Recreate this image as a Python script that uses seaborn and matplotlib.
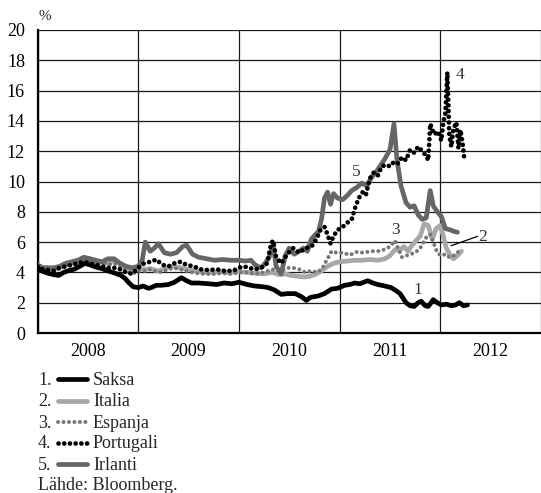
import matplotlib
matplotlib.use("Agg")
import matplotlib.pyplot as plt
from matplotlib.lines import Line2D
import seaborn as sns
import pandas as pd

# ---------------- data ----------------
saksa_t = [2008.00, 2008.04, 2008.10, 2008.16, 2008.21, 2008.26, 2008.30, 2008.36, 2008.42, 2008.47,
           2008.52, 2008.58, 2008.64, 2008.70, 2008.77, 2008.83, 2008.87, 2008.91, 2008.95, 2009.00,
           2009.05, 2009.10, 2009.13, 2009.18, 2009.23, 2009.30, 2009.36, 2009.43, 2009.48, 2009.53,
           2009.60, 2009.70, 2009.78, 2009.85, 2009.93, 2010.00, 2010.08, 2010.16, 2010.24, 2010.29,
           2010.35, 2010.42, 2010.48, 2010.56, 2010.62, 2010.67, 2010.71, 2010.75, 2010.79, 2010.85,
           2010.92, 2010.98, 2011.05, 2011.10, 2011.15, 2011.20, 2011.28, 2011.33, 2011.38, 2011.45,
           2011.51, 2011.56, 2011.60, 2011.63, 2011.66, 2011.70, 2011.74, 2011.78, 2011.81, 2011.85,
           2011.88, 2011.93, 2011.97, 2012.01, 2012.06, 2012.11, 2012.15, 2012.19, 2012.23, 2012.27]
saksa_v = [4.3, 4.1, 3.95, 3.85, 3.8, 4.0, 4.1, 4.2, 4.4, 4.6,
           4.5, 4.35, 4.25, 4.1, 3.95, 3.8, 3.6, 3.3, 3.05, 3.0,
           3.1, 2.95, 3.0, 3.15, 3.15, 3.2, 3.35, 3.65, 3.45, 3.3,
           3.3, 3.25, 3.2, 3.3, 3.25, 3.35, 3.2, 3.1, 3.05, 3.0,
           2.85, 2.55, 2.6, 2.6, 2.4, 2.15, 2.35, 2.4, 2.45, 2.6,
           2.9, 2.95, 3.15, 3.2, 3.3, 3.25, 3.45, 3.3, 3.2, 3.1,
           3.0, 2.8, 2.6, 2.3, 2.0, 1.8, 1.75, 2.0, 2.1, 1.8,
           1.75, 2.2, 2.0, 1.85, 1.9, 1.8, 1.85, 2.0, 1.8, 1.85]

italia_t = [2008.00, 2008.05, 2008.10, 2008.16, 2008.22, 2008.28, 2008.34, 2008.40, 2008.46, 2008.52,
            2008.58, 2008.64, 2008.70, 2008.76, 2008.82, 2008.88, 2008.94, 2009.00, 2009.06, 2009.12,
            2009.20, 2009.28, 2009.35, 2009.42, 2009.50, 2009.58, 2009.66, 2009.75, 2009.83, 2009.92,
            2010.00, 2010.08, 2010.16, 2010.25, 2010.33, 2010.40, 2010.46, 2010.52, 2010.58, 2010.65,
            2010.71, 2010.77, 2010.82, 2010.88, 2010.94, 2011.00, 2011.08, 2011.15, 2011.22, 2011.30,
            2011.38, 2011.45, 2011.50, 2011.55, 2011.60, 2011.64, 2011.68, 2011.72, 2011.76, 2011.80,
            2011.84, 2011.88, 2011.92, 2011.96, 2012.00, 2012.03, 2012.06, 2012.10, 2012.13, 2012.17,
            2012.21]
italia_v = [4.5, 4.3, 4.3, 4.2, 4.3, 4.5, 4.6, 4.7, 4.9, 4.9,
            4.7, 4.7, 4.6, 4.8, 4.6, 4.3, 4.2, 4.3, 4.2, 4.25,
            4.1, 4.3, 4.4, 4.3, 4.2, 4.1, 4.0, 4.0, 4.05, 4.0,
            4.05, 4.0, 3.95, 3.9, 4.0, 3.85, 3.9, 3.8, 3.75, 3.7,
            3.75, 3.9, 4.1, 4.4, 4.6, 4.7, 4.75, 4.8, 4.8, 4.85,
            4.8, 4.9, 5.1, 5.5, 5.5, 5.7, 5.4, 5.8, 6.1, 6.4,
            7.2, 7.1, 6.2, 6.9, 7.1, 6.4, 5.6, 5.1, 4.9, 5.1,
            5.4]

espanja_t = [2008.00, 2008.05, 2008.10, 2008.16, 2008.22, 2008.28, 2008.34, 2008.40, 2008.46, 2008.52,
             2008.58, 2008.64, 2008.70, 2008.76, 2008.82, 2008.88, 2008.94, 2009.00, 2009.06, 2009.12,
             2009.20, 2009.28, 2009.35, 2009.42, 2009.50, 2009.58, 2009.66, 2009.75, 2009.83, 2009.92,
             2010.00, 2010.08, 2010.16, 2010.25, 2010.33, 2010.42, 2010.48, 2010.54, 2010.60, 2010.66,
             2010.72, 2010.78, 2010.83, 2010.88, 2010.92, 2010.97, 2011.03, 2011.10, 2011.17, 2011.24,
             2011.31, 2011.38, 2011.44, 2011.50, 2011.55, 2011.58, 2011.62, 2011.66, 2011.70, 2011.75,
             2011.80, 2011.86, 2011.90, 2011.93, 2011.97, 2012.01, 2012.05, 2012.09, 2012.13, 2012.17,
             2012.21]
espanja_v = [4.4, 4.2, 4.3, 4.2, 4.3, 4.45, 4.55, 4.7, 4.85, 4.8,
             4.6, 4.65, 4.5, 4.6, 4.4, 4.1, 3.9, 4.1, 4.1, 4.2,
             4.0, 4.15, 4.3, 4.2, 4.05, 3.95, 3.9, 3.9, 3.95, 3.9,
             4.0, 4.0, 3.9, 4.0, 4.2, 4.1, 4.3, 4.3, 4.2, 4.0,
             4.1, 4.0, 4.3, 4.9, 5.4, 5.3, 5.3, 5.15, 5.35, 5.3,
             5.4, 5.4, 5.5, 5.7, 6.1, 5.6, 5.0, 5.1, 5.2, 5.3,
             5.6, 6.3, 6.5, 6.0, 5.3, 5.1, 5.2, 5.0, 5.1, 5.3,
             5.6]

portugali_t = [2008.00, 2008.05, 2008.10, 2008.16, 2008.22, 2008.28, 2008.34, 2008.40, 2008.46, 2008.52,
               2008.58, 2008.64, 2008.70, 2008.76, 2008.82, 2008.88, 2008.94, 2009.00, 2009.06, 2009.12,
               2009.18, 2009.24, 2009.30, 2009.36, 2009.42, 2009.48, 2009.55, 2009.62, 2009.70, 2009.78,
               2009.86, 2009.94, 2010.00, 2010.05, 2010.10, 2010.16, 2010.22, 2010.28, 2010.32, 2010.34,
               2010.37, 2010.42, 2010.48, 2010.54, 2010.60, 2010.66, 2010.72, 2010.77, 2010.81, 2010.85,
               2010.88, 2010.91, 2010.94, 2010.98, 2011.03, 2011.08, 2011.12, 2011.15, 2011.19, 2011.23,
               2011.26, 2011.30, 2011.34, 2011.38, 2011.42, 2011.46, 2011.50, 2011.54, 2011.58, 2011.62,
               2011.66, 2011.70, 2011.74, 2011.78, 2011.82, 2011.86, 2011.88, 2011.90, 2011.94, 2011.98,
               2012.01, 2012.03, 2012.05, 2012.07, 2012.09, 2012.11, 2012.13, 2012.16, 2012.18, 2012.20,
               2012.22, 2012.24]
portugali_v = [4.4, 4.2, 4.15, 4.1, 4.3, 4.4, 4.5, 4.6, 4.7, 4.6,
               4.5, 4.4, 4.3, 4.3, 4.2, 4.0, 3.9, 4.3, 4.6, 4.7,
               4.85, 4.5, 4.4, 4.6, 4.7, 4.5, 4.4, 4.2, 4.15, 4.2,
               4.1, 4.1, 4.3, 4.4, 4.3, 4.2, 4.3, 4.6, 5.9, 6.1,
               5.0, 4.6, 5.2, 5.6, 5.3, 5.6, 5.7, 6.2, 6.8, 7.0,
               6.5, 5.9, 6.4, 6.8, 7.0, 7.3, 7.5, 8.2, 8.9, 9.3,
               9.1, 10.2, 10.6, 10.4, 11.0, 11.1, 11.0, 11.3, 11.2, 11.6,
               11.4, 12.1, 11.9, 12.3, 12.0, 11.7, 11.4, 13.8, 13.1, 13.3,
               12.7, 13.9, 14.5, 17.2, 13.0, 12.3, 13.5, 13.9, 12.2, 13.4,
               12.6, 11.4]

irlanti_t = [2008.00, 2008.05, 2008.10, 2008.16, 2008.22, 2008.28, 2008.34, 2008.40, 2008.46, 2008.52,
             2008.58, 2008.64, 2008.70, 2008.76, 2008.82, 2008.88, 2008.94, 2009.00, 2009.04, 2009.07,
             2009.12, 2009.16, 2009.20, 2009.26, 2009.32, 2009.38, 2009.44, 2009.48, 2009.54, 2009.60,
             2009.68, 2009.76, 2009.84, 2009.92, 2010.00, 2010.06, 2010.12, 2010.16, 2010.22, 2010.26,
             2010.30, 2010.34, 2010.37, 2010.42, 2010.46, 2010.50, 2010.55, 2010.60, 2010.64, 2010.68,
             2010.72, 2010.76, 2010.79, 2010.82, 2010.85, 2010.88, 2010.91, 2010.94, 2010.98, 2011.03,
             2011.08, 2011.12, 2011.17, 2011.22, 2011.27, 2011.32, 2011.36, 2011.40, 2011.45, 2011.50,
             2011.54, 2011.57, 2011.61, 2011.66, 2011.70, 2011.74, 2011.78, 2011.82, 2011.86, 2011.90,
             2011.93, 2011.97, 2012.01, 2012.05, 2012.10, 2012.14, 2012.17]
irlanti_v = [4.5, 4.3, 4.3, 4.3, 4.4, 4.6, 4.7, 4.8, 5.0, 4.9,
             4.8, 4.7, 4.9, 4.9, 4.6, 4.4, 4.3, 4.4, 4.8, 6.0,
             5.4, 5.6, 5.9, 5.3, 5.2, 5.3, 5.7, 5.8, 5.2, 5.0,
             4.9, 4.8, 4.85, 4.8, 4.8, 4.75, 4.8, 4.5, 4.3, 4.6,
             5.0, 5.8, 4.4, 3.9, 5.1, 5.6, 5.2, 5.4, 5.6, 5.4,
             6.2, 6.5, 6.7, 7.5, 8.9, 9.3, 8.5, 9.2, 8.9, 8.8,
             9.1, 9.4, 9.6, 9.9, 9.7, 10.3, 10.6, 11.0, 11.5, 12.1,
             13.8, 11.4, 9.7, 8.6, 8.3, 8.4, 7.8, 7.5, 7.6, 9.4,
             8.4, 8.0, 7.7, 6.9, 6.8, 6.7, 6.65]

series_names = ["Saksa", "Italia", "Espanja", "Portugali", "Irlanti"]
series_numbers = ["1", "2", "3", "4", "5"]
y_ticks = [0, 2, 4, 6, 8, 10, 12, 14, 16, 18, 20]
year_labels = ["2008", "2009", "2010", "2011", "2012"]
source_text = "Lähde: Bloomberg."

# ---------------- style ----------------
sns.set_style("white")
plt.rcParams["font.family"] = ["Liberation Serif", "DejaVu Serif"]

W, H = 541, 493
fig = plt.figure(figsize=(W / 100, H / 100), dpi=100)
ax = fig.add_axes([37.5 / W, 1 - 333 / H, 1 - 37.5 / W, (333 - 30) / H])

c_saksa = "#000000"
c_italia = "#a8a8a8"
c_espanja = "#777777"
c_portugali = "#000000"
c_irlanti = "#666666"

styles = {
    "Italia": dict(color=c_italia, lw=3.4, linestyle="-", solid_capstyle="round", solid_joinstyle="round", zorder=3),
    "Espanja": dict(color=c_espanja, lw=2.9, linestyle=(0, (0.01, 1.35)), dash_capstyle="round", zorder=4),
    "Irlanti": dict(color=c_irlanti, lw=3.4, linestyle="-", solid_capstyle="round", solid_joinstyle="round", zorder=5),
    "Portugali": dict(color=c_portugali, lw=3.4, linestyle=(0, (0.01, 1.2)), dash_capstyle="round", zorder=6),
    "Saksa": dict(color=c_saksa, lw=3.4, linestyle="-", solid_capstyle="round", solid_joinstyle="round", zorder=7),
}
data = {
    "Saksa": (saksa_t, saksa_v),
    "Italia": (italia_t, italia_v),
    "Espanja": (espanja_t, espanja_v),
    "Portugali": (portugali_t, portugali_v),
    "Irlanti": (irlanti_t, irlanti_v),
}
for name in ["Italia", "Espanja", "Irlanti", "Portugali", "Saksa"]:
    t, v = data[name]
    df = pd.DataFrame({"t": t, "v": v})
    sns.lineplot(data=df, x="t", y="v", ax=ax, estimator=None, sort=False,
                 legend=False, **styles[name])

ax.set_xlim(2008, 2008 + (W - 38.5) / 101)
ax.set_ylim(0, 20)
ax.set_yticks(y_ticks)
ax.set_yticklabels([str(v) for v in y_ticks])
ax.set_xticks([2008, 2009, 2010, 2011, 2012, 2013])
ax.set_xticklabels([])
ax.set_xticks([y + 0.5 for y in range(2008, 2013)], minor=True)
ax.set_xticklabels(year_labels, minor=True)
ax.tick_params(axis="both", which="both", length=0, labelsize=13, colors="#000000")
ax.tick_params(axis="y", pad=9)
ax.tick_params(axis="x", which="minor", pad=7)
ax.grid(True, which="major", color="#1a1a1a", lw=0.9)
ax.set_axisbelow(True)
for s in ["top", "right"]:
    ax.spines[s].set_visible(False)
for s in ["left", "bottom"]:
    ax.spines[s].set_color("#000000")
    ax.spines[s].set_linewidth(1.6)
ax.set_xlabel("")
ax.set_ylabel("")

# series number labels
lab_kw = dict(fontsize=12.5, color="#333333", ha="center", va="center", zorder=10)
ax.text(2011.78, 2.84, "1", **lab_kw)
ax.text(2012.42, 6.36, "2", **lab_kw)
ax.text(2011.56, 6.8, "3", **lab_kw)
ax.text(2012.20, 17.03, "4", **lab_kw)
ax.text(2011.17, 10.6, "5", **lab_kw)
ax.plot([2012.107, 2012.37], [5.76, 6.38], color="#000000", lw=0.9, zorder=10)

# unit
fig.text(45 / W, 1 - 17 / H, "%", fontsize=11, ha="center", va="center")

# legend
baselines = [385, 406.5, 427.5, 448.5, 470]
for i, name in enumerate(series_names):
    yb = 1 - baselines[i] / H
    yl = 1 - (baselines[i] - 6) / H
    fig.text(38 / W, yb, series_numbers[i] + ".", fontsize=13, ha="left", va="baseline")
    st = styles[name]
    kw = dict(color=st["color"], lw=st["lw"], linestyle=st["linestyle"])
    if "dash_capstyle" in st:
        kw["dash_capstyle"] = "round"
    else:
        kw["solid_capstyle"] = "round"
    fig.add_artist(Line2D([58 / W, 87 / W], [yl, yl], transform=fig.transFigure, **kw))
    fig.text(93 / W, yb, name, fontsize=13, ha="left", va="baseline")
fig.text(38 / W, 1 - 490.5 / H, source_text, fontsize=13, ha="left", va="baseline")

fig.savefig("out.png", dpi=100)
